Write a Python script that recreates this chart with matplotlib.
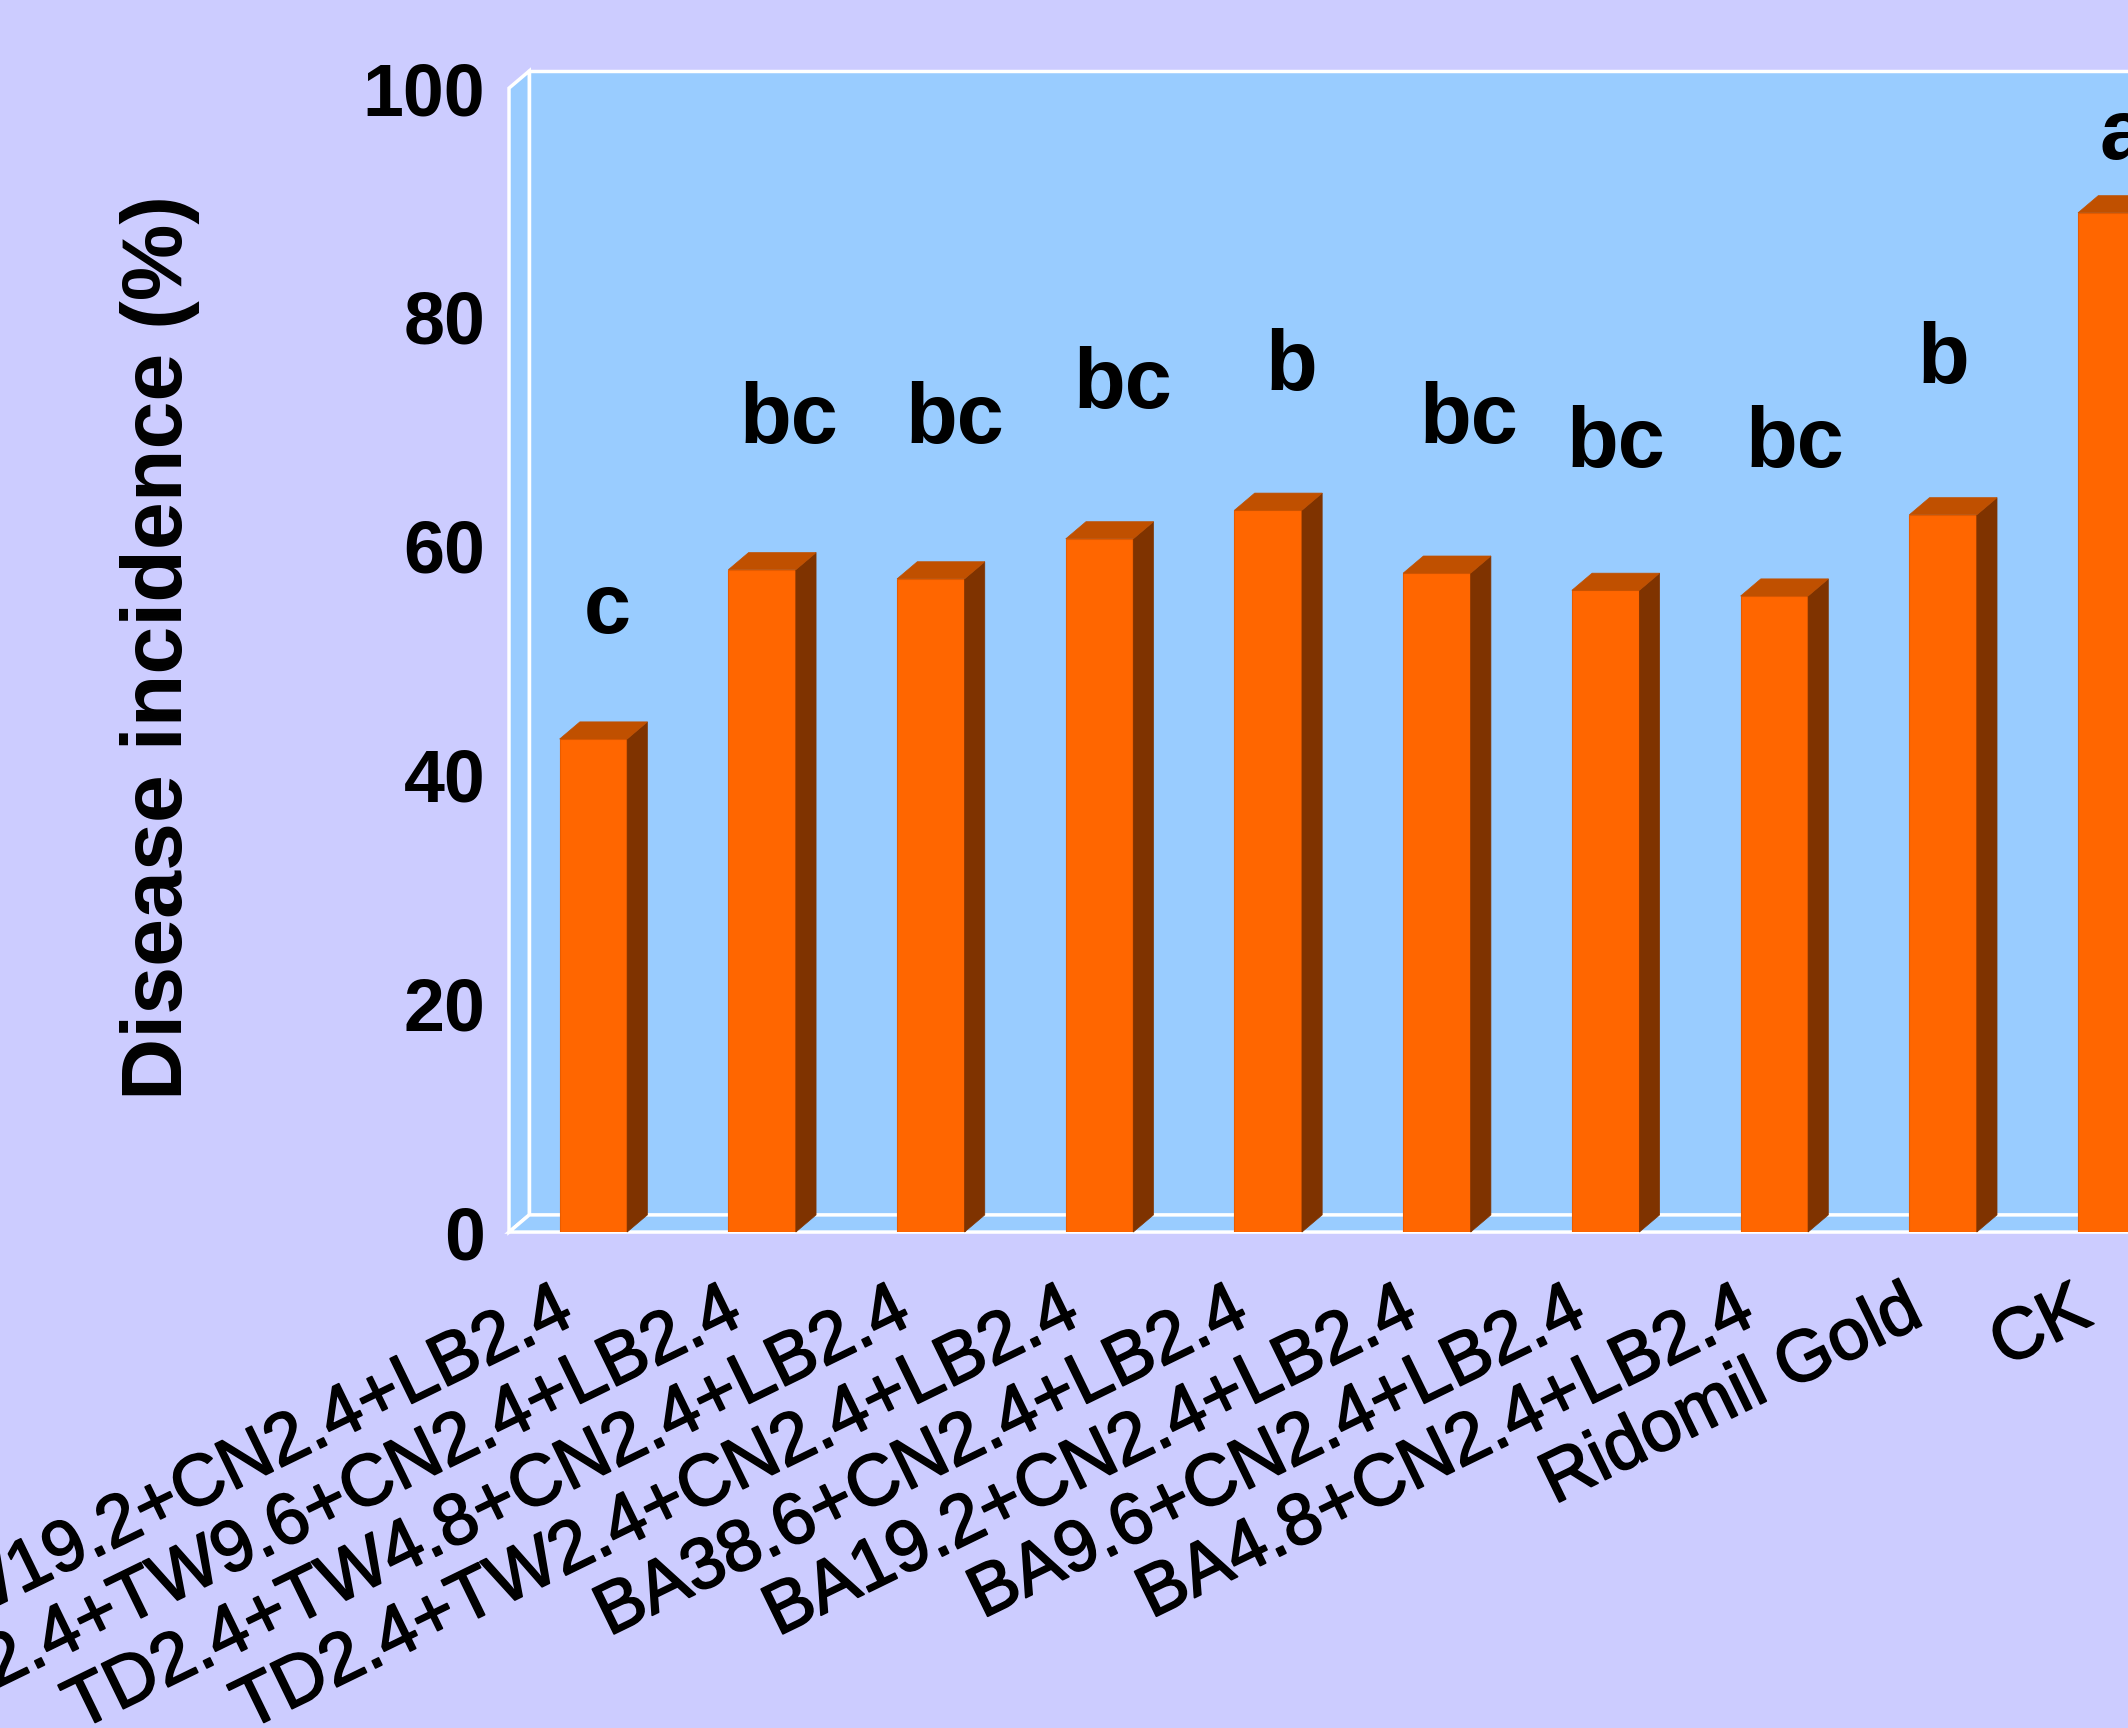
import matplotlib
matplotlib.use("Agg")
import matplotlib.pyplot as plt
import matplotlib.patheffects as pe
import numpy as np
from matplotlib.patches import Polygon
from matplotlib.transforms import ScaledTranslation

plt.rcParams['font.family'] = ['Liberation Sans', 'DejaVu Sans']

# data
treatments = ['TD2.4+TW19.2+CN2.4+LB2.4', 'TD2.4+TW9.6+CN2.4+LB2.4',
              'TD2.4+TW4.8+CN2.4+LB2.4', 'TD2.4+TW2.4+CN2.4+LB2.4',
              'BA38.6+CN2.4+LB2.4', 'BA19.2+CN2.4+LB2.4',
              'BA9.6+CN2.4+LB2.4', 'BA4.8+CN2.4+LB2.4',
              'Ridomil Gold', 'CK']
incidence = [43.1, 57.9, 57.1, 60.6, 63.1, 57.6, 56.1, 55.6, 62.7, 89.1]
letters = ['c', 'bc', 'bc', 'bc', 'b', 'bc', 'bc', 'bc', 'b', 'a']
letter_y = [52.4, 69.0, 69.0, 72.0, 73.6, 69.0, 66.9, 66.9, 74.2, 93.8]
letter_dx = [0.08, 0.16, 0.14, 0.14, 0.14, 0.19, 0.06, 0.12, 0.0, 0.07]
yticks = [0, 20, 40, 60, 80, 100]

bg = '#CCCCFF'
wall = '#99CCFF'
front = '#FF6600'
top_c = '#C05000'
side_c = '#7F3300'

fig = plt.figure(figsize=(21.28, 17.28), dpi=100, facecolor=bg)
ax = fig.add_axes([0.2392, 0.2870, 0.7928, 0.6620])
ax.set_facecolor('none')
for s in ax.spines.values():
    s.set_visible(False)

x = np.arange(len(treatments))
x0, x1 = -0.5, len(treatments) - 0.5
ax.set_xlim(x0, x1)
ax.set_ylim(0, 100)

# depth of the 3d look (data units)
dx, dy = 0.12, 1.5
w = 0.40

# walls and floor
kw = dict(facecolor=wall, edgecolor='white', lw=2.5, clip_on=False, zorder=0.5)
ax.add_patch(Polygon([(x0 + dx, dy), (x1 + dx, dy), (x1 + dx, 100 + dy), (x0 + dx, 100 + dy)], closed=True, **kw))
ax.add_patch(Polygon([(x0, 0), (x0, 100), (x0 + dx, 100 + dy), (x0 + dx, dy)], closed=True, **kw))
ax.add_patch(Polygon([(x0, 0), (x0 + dx, dy), (x1 + dx, dy), (x1, 0)], closed=True, **kw))

# bars: front faces, then sides and tops
bars = ax.bar(x, incidence, width=w, color=front, edgecolor='#E85C00', lw=0.8, zorder=2)
for xi, v in zip(x, incidence):
    l, r = xi - w / 2, xi + w / 2
    ax.add_patch(Polygon([(r, 0), (r + dx, dy), (r + dx, v + dy), (r, v)], closed=True,
                         facecolor=side_c, edgecolor=side_c, lw=0.5, zorder=2, clip_on=False))
    ax.add_patch(Polygon([(l, v), (l + dx, v + dy), (r + dx, v + dy), (r, v)], closed=True,
                         facecolor=top_c, edgecolor=top_c, lw=0.5, zorder=2, clip_on=False))

for xi, t, ly, ldx in zip(x, letters, letter_y, letter_dx):
    ax.text(xi + ldx, ly, t, ha='center', va='baseline', fontsize=61,
            fontweight='bold', zorder=3, clip_on=False)

ax.set_yticks(yticks)
ax.set_yticklabels([str(t) for t in yticks], fontsize=53, fontweight='bold')
ax.tick_params(axis='y', length=0, pad=17)

ax.set_xticks(x)
ax.set_xticklabels(treatments, fontsize=52, rotation=26, ha='right',
                   rotation_mode='anchor')
ax.tick_params(axis='x', length=0, pad=32)
shift = ScaledTranslation(-0.40, 0, fig.dpi_scale_trans)
for lab in ax.get_xticklabels():
    lab.set_transform(lab.get_transform() + shift)
    lab.set_path_effects([pe.withStroke(linewidth=1.3, foreground='black')])

fig.text(160 / 2128, 1 - 647 / 1728, 'Disease incidence (%)', rotation=90,
         ha='center', va='center', fontsize=62, fontweight='bold')

fig.savefig('out.png', dpi=100, facecolor=bg)
